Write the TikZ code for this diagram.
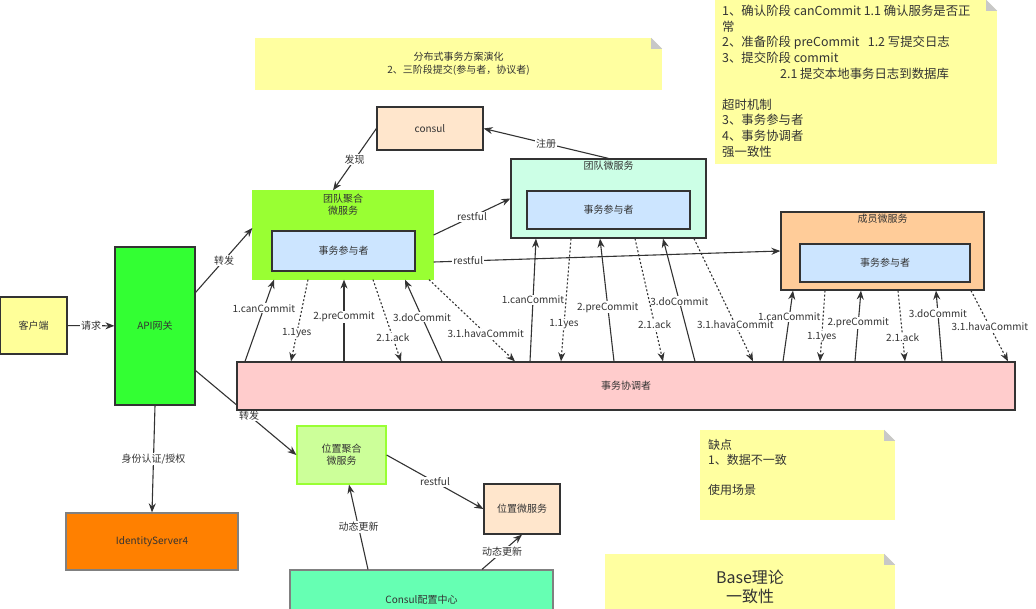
\documentclass[tikz,border=0pt]{standalone}
\usepackage{fontspec}
\setmainfont{Noto Sans CJK SC}
\usetikzlibrary{arrows.meta,positioning}
\definecolor{tcInk}{HTML}{333333}
\definecolor{tcGrey}{HTML}{808080}
\definecolor{tcClient}{HTML}{FFFF99}
\definecolor{tcGate}{HTML}{33FF33}
\definecolor{tcLime}{HTML}{99FF33}
\definecolor{tcPart}{HTML}{CCE5FF}
\definecolor{tcPeach}{HTML}{FFE6CC}
\definecolor{tcMint}{HTML}{CCFFE6}
\definecolor{tcOrange}{HTML}{FFCC99}
\definecolor{tcRose}{HTML}{FFCCCC}
\definecolor{tcPale}{HTML}{CCFF99}
\definecolor{tcSea}{HTML}{66FFB3}
\definecolor{tcIds}{HTML}{FF8000}
\definecolor{tcNote}{HTML}{FFFFA0}
\definecolor{tcFold}{HTML}{C8C8C8}
\tikzset{
  box/.style      ={draw=tcInk,line width=1.2pt,inner sep=1pt,align=center,
                    text=tcInk,font=\fontsize{10}{12}\selectfont},
  partbox/.style  ={box,fill=tcPart},
  title/.style    ={inner sep=0pt,align=center,text=tcInk,font=\fontsize{10}{12}\selectfont},
  note/.style     ={fill=tcNote,inner sep=0pt,align=center,text=tcInk},
  notetext/.style ={inner sep=0pt,anchor=north west,align=left,text=tcInk},
  flow/.style     ={-{Stealth[length=9pt,width=7pt]},draw=tcInk,line width=1.1pt},
  reply/.style    ={flow,dash pattern=on 2pt off 2pt},
  lbl/.style      ={fill=white,inner sep=1pt,text=tcInk,font=\fontsize{10}{12}\selectfont},
}
% folded corner of a note
\newcommand{\notefold}[1]{%
  \fill[white] ([xshift=-11pt]#1.north east) -- (#1.north east) -- ([yshift=-11pt]#1.north east) -- cycle;
  \fill[tcFold] ([xshift=-11pt]#1.north east) -- ([xshift=-11pt,yshift=-11pt]#1.north east)
    -- ([yshift=-11pt]#1.north east) -- cycle;}

\begin{document}
\begin{tikzpicture}[x=1pt,y=-1pt]
\useasboundingbox (0,0) rectangle (1036,608);

% notes
\node[note,minimum width=407,minimum height=52,font=\fontsize{10}{13}\selectfont] (titlenote) at (458.5,64)
  {分布式事务方案演化\\2、三阶段提交(参与者，协议者)};
\notefold{titlenote}
\node[note,minimum width=282,minimum height=164] (phasenote) at (856,82) {};
\notefold{phasenote}
\node[notetext,font=\fontsize{12.4}{15.6}\selectfont] (phasetext) at (722,5)
  {1、确认阶段 canCommit 1.1 确认服务是否正\\常\\2、准备阶段 preCommit\ \ \ 1.2 写提交日志\\3、提交阶段 commit\\
   \hspace*{58pt}2.1 提交本地事务日志到数据库\\[15.6pt]超时机制\\3、事务参与者\\4、事务协调者\\强一致性};
\node[note,minimum width=195,minimum height=90] (consnote) at (797.5,475) {};
\notefold{consnote}
\node[notetext,font=\fontsize{12}{15}\selectfont] (constext) at (708,439)
  {缺点\\1、数据不一致\\[15pt]使用场景};
\node[note,minimum width=290,minimum height=66,font=\fontsize{16}{19}\selectfont] (basenote) at (750,587)
  {Base理论\\一致性};
\notefold{basenote}

% gateway side
\node[box,fill=tcClient,minimum width=67,minimum height=57] (client) at (33.5,325.5) {客户端};
\node[box,fill=tcGate,minimum width=80,minimum height=158] (gateway) at (155,326) {API网关};
\node[box,draw=tcGrey,fill=tcIds,minimum width=172,minimum height=57] (ids) at (152,541.5) {IdentityServer4};

% position services
\node[box,draw=tcLime,fill=tcPale,minimum width=89,minimum height=58] (posagg) at (341.5,455) {位置聚合\\微服务};
\node[box,fill=tcPeach,minimum width=76,minimum height=50] (possvc) at (522,509) {位置微服务};
\node[box,draw=tcGrey,fill=tcSea,minimum width=263,minimum height=60] (consulcfg) at (421.5,600) {Consul配置中心};
\draw[flow] ([yshift=35pt]gateway.south east) -- (posagg.west) node[lbl,pos=0.53] {转发};

% team services
\node[box,draw=tcLime,fill=tcLime,minimum width=180,minimum height=88] (teamagg) at (343,235) {};
\node[title,anchor=north] (teamaggt) at ([yshift=-3pt]teamagg.north) {团队聚合\\微服务};
\node[partbox,minimum width=143,minimum height=40] (teamaggp) at (343.5,251) {事务参与者};
\node[box,fill=tcPeach,minimum width=106,minimum height=43] (consul) at (430,128.5) {consul};
\node[box,fill=tcMint,minimum width=195,minimum height=79] (teamsvc) at (608.5,198.5) {};
\node[title,anchor=north] (teamsvct) at ([yshift=-2pt]teamsvc.north) {团队微服务};
\node[partbox,minimum width=163,minimum height=38] (teamsvcp) at (608.5,210) {事务参与者};
\node[box,fill=tcOrange,minimum width=203,minimum height=78] (membersvc) at (882.5,251) {};
\node[title,anchor=north] (membersvct) at ([yshift=-2pt]membersvc.north) {成员微服务};
\node[partbox,minimum width=170,minimum height=38] (membersvcp) at (885,263) {事务参与者};
\node[box,fill=tcRose,minimum width=778,minimum height=48] (coord) at (626,386) {事务协调者};

\draw[flow] (client) -- (gateway) node[lbl,midway] {请求};
\draw[flow] ([yshift=-46pt]gateway.north east) -- ([yshift=7pt]teamagg.west) node[lbl,midway] {转发};
\draw[flow] (gateway.south) -- (ids.north) node[lbl,midway] {身份认证/授权};
\draw[flow] (consul.west) -- ([xshift=-10pt]teamagg.north) node[lbl,midway] {发现};
\draw[flow] (teamsvc.north) -- (consul.east) node[lbl,midway] {注册};
\draw[flow] (teamagg.east) -- (teamsvc.west) node[lbl,midway] {restful};
\draw[flow] ([yshift=-27pt]teamagg.east) -- (membersvc.west) node[lbl,pos=0.1] {restful};
\draw[flow] (posagg.east) -- (possvc.west) node[lbl,midway] {restful};
\draw[flow] ([xshift=-53.5pt]consulcfg.north) -- ([xshift=7.5pt]posagg.south) node[lbl,midway] {动态更新};
\draw[flow] ([xshift=60.5pt]consulcfg.north) -- (possvc.south) node[lbl,midway] {动态更新};

% coordinator -> participants
\foreach \svc/\xc/\xs/\p/\t in {
  teamagg/245/274/0.65/1.canCommit, teamagg/344/344/0.54/2.preCommit, teamagg/442/405/0.54/3.doCommit,
  teamsvc/530/536/0.50/1.canCommit, teamsvc/614/600/0.44/2.preCommit, teamsvc/695/663/0.49/3.doCommit,
  membersvc/783/793/0.63/1.canCommit, membersvc/855/861/0.54/2.preCommit, membersvc/942/936/0.68/3.doCommit}
  \draw[flow] (coord.north -| \xc,0) -- (\svc.south -| \xs,0) node[lbl,pos=\p] {\t};
% participants -> coordinator
\foreach \svc/\xs/\xc/\p/\t in {
  teamagg/308/291/0.66/1.1yes, teamagg/373/401/0.71/2.1.ack, teamagg/429/515/0.66/3.1.havaCommit,
  teamsvc/571/561/0.70/1.1yes, teamsvc/635/663/0.70/2.1.ack, teamsvc/694/753/0.70/3.1.havaCommit,
  membersvc/825/820/0.65/1.1yes, membersvc/898/905/0.67/2.1.ack, membersvc/971/1008/0.51/3.1.havaCommit}
  \draw[reply] (\svc.south -| \xs,0) -- (coord.north -| \xc,0) node[lbl,pos=\p] {\t};
\end{tikzpicture}
\end{document}
